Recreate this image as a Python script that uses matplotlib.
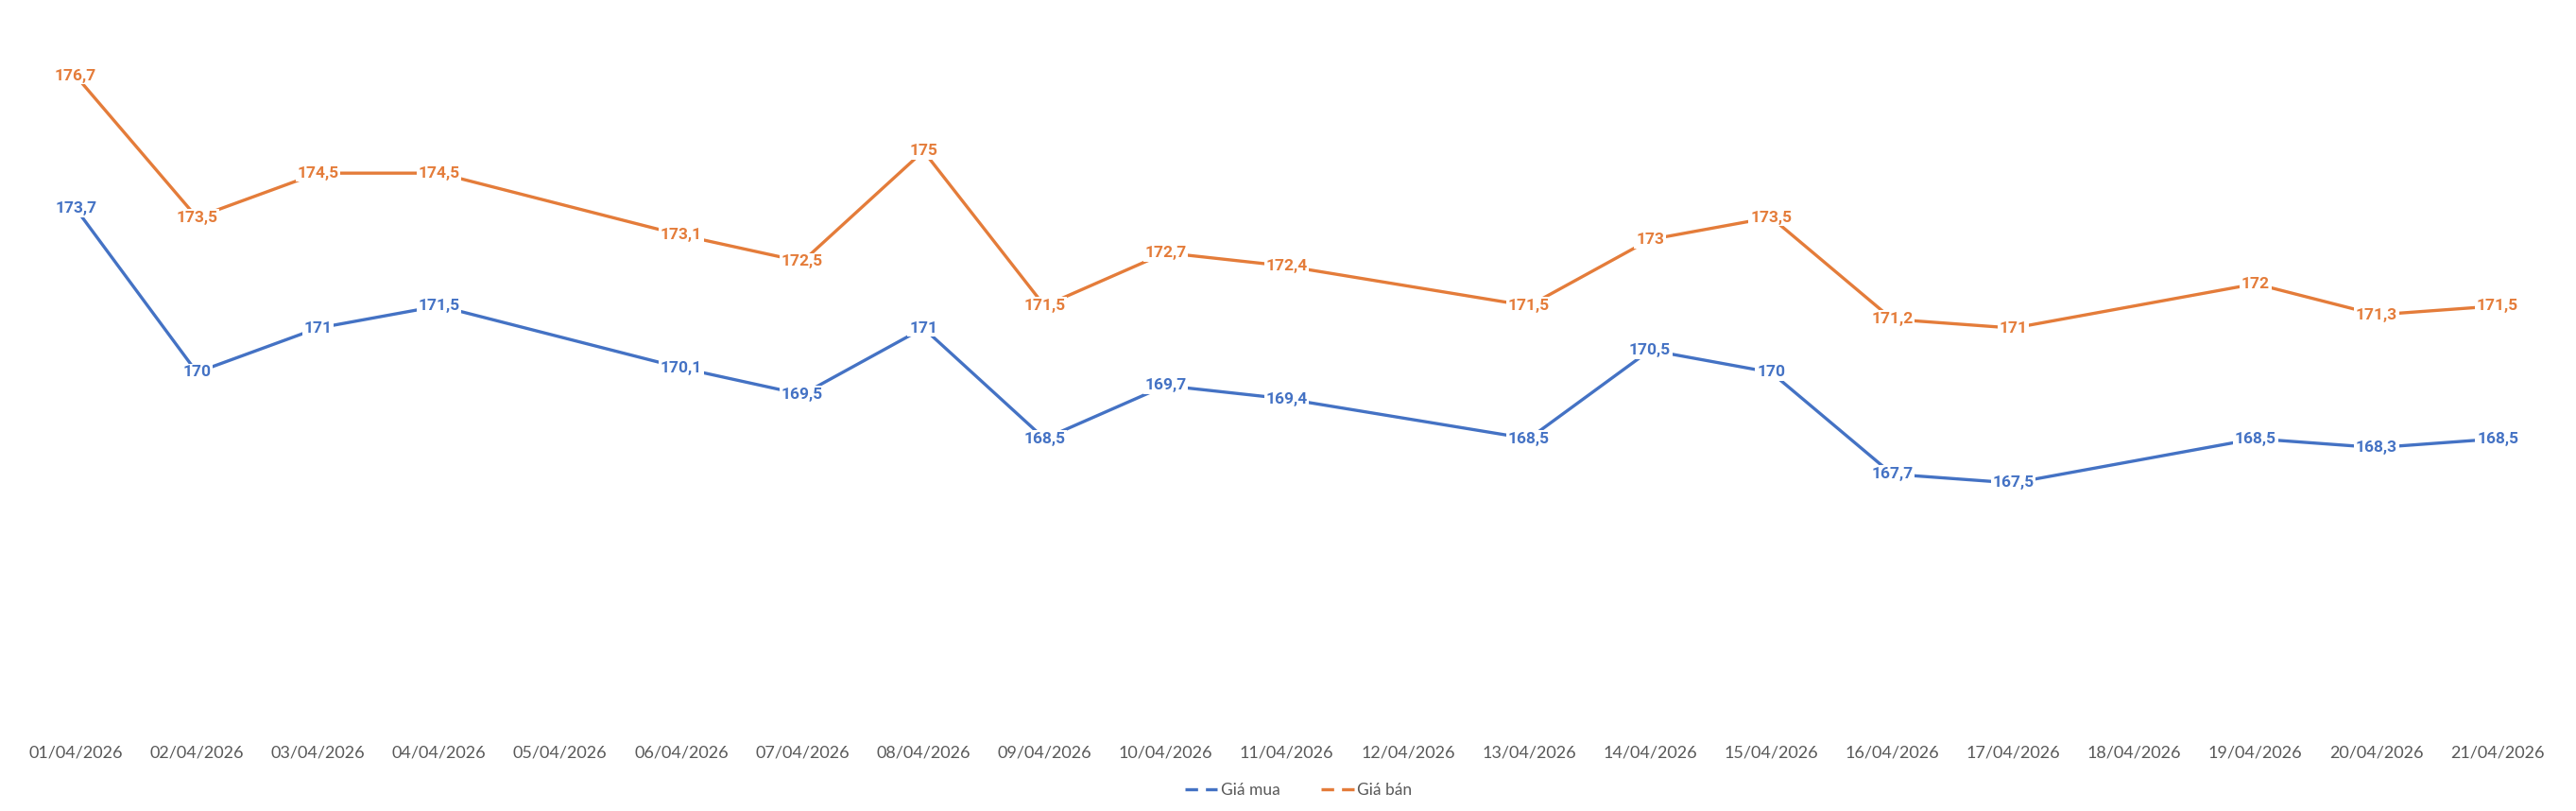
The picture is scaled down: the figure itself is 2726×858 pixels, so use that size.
import numpy as np
import matplotlib
matplotlib.use("Agg")
import matplotlib.pyplot as plt
from matplotlib.lines import Line2D

dates = ["%02d/04/2026" % d for d in range(1, 22)]

# None = no value that day (the line is joined across the gap)
gia_mua = [173.7, 170, 171, 171.5, None, 170.1, 169.5, 171, 168.5, 169.7, 169.4,
           None, 168.5, 170.5, 170, 167.7, 167.5, None, 168.5, 168.3, 168.5]
gia_ban = [176.7, 173.5, 174.5, 174.5, None, 173.1, 172.5, 175, 171.5, 172.7, 172.4,
           None, 171.5, 173, 173.5, 171.2, 171, None, 172, 171.3, 171.5]

series = [("Giá mua", gia_mua, "#4472C4"), ("Giá bán", gia_ban, "#E47C3A")]

plt.rcParams['font.family'] = ['Lato', 'DejaVu Sans']

fig = plt.figure(figsize=(27.26, 8.58), dpi=100)
ax = fig.add_axes([0.0059, 0.1026, 0.9872, 0.8613])

handles = []
for name, vals, color in series:
    xs = [i for i, v in enumerate(vals) if v is not None]
    ys = [v for v in vals if v is not None]
    ax.plot(xs, ys, color=color, lw=2.4, solid_capstyle='butt', zorder=2)
    for x, y in zip(xs, ys):
        txt = ("%g" % y).replace(".", ",")
        ax.text(x, y, txt, color=color, fontsize=12.5, fontweight='bold',
                family=['Roboto', 'DejaVu Sans'],
                ha='center', va='center', zorder=3,
                bbox=dict(boxstyle='square,pad=0.1', fc='white', ec='none'))
    handles.append(Line2D([], [], color=color, lw=2.4, dashes=(4, 2.5)))

ax.set_xlim(-0.5, len(dates) - 0.5)
ax.set_ylim(161.97, 177.75)
ax.set_xticks(range(len(dates)))
ax.set_xticklabels(dates, fontsize=13, color='#595959')
ax.tick_params(axis='x', length=0, pad=13)
ax.set_yticks([])
for s in ax.spines.values():
    s.set_visible(False)

fig.legend(handles, [s[0] for s in series], loc='center', bbox_to_anchor=(0.504, 0.026),
           ncol=2, frameon=False, fontsize=12.5, handlelength=2.0, handletextpad=0.2,
           columnspacing=2.5, labelcolor='#595959')

fig.savefig("out.png", dpi=100)
